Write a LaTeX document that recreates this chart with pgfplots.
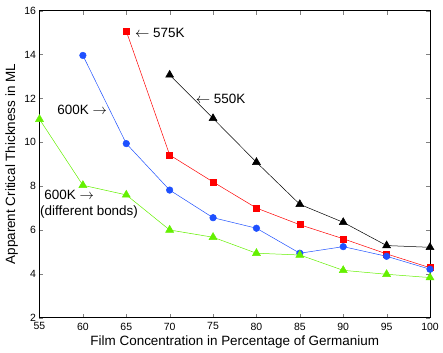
\documentclass[border=0pt]{standalone}
\usepackage{pgfplots}
\pgfplotsset{compat=1.18}
\usepackage{fontspec}
\setmainfont{Liberation Sans}
\definecolor{mblue}{RGB}{30,80,255}
\definecolor{mgreen}{RGB}{100,240,0}
\begin{document}
\begin{tikzpicture}
\path[use as bounding box] (-39.5bp,-35.3bp) rectangle (403.5bp,317.7bp);
\begin{axis}[
    at={(0,0)}, anchor=south west,
    scale only axis,
    width=390.5bp, height=307bp,
    xmin=55, xmax=100, ymin=2, ymax=16,
    xtick={55,60,...,100}, ytick={2,4,...,16},
    tick align=inside,
    major tick length=4bp,
    xtick pos=both, ytick pos=both,
    /pgf/number format/assume math mode=true,
    tick label style={font=\fontsize{10.5}{12}\selectfont},
    xticklabel style={yshift=-1.5bp},
    xlabel={Film Concentration in Percentage of Germanium},
    ylabel={Apparent Critical Thickness in ML},
    every axis x label/.style={at={(axis description cs:0.5,-0.0805)}, anchor=center, font=\fontsize{13.5}{15}\selectfont},
    every axis y label/.style={at={(axis description cs:-0.0712,0.5)}, anchor=center, rotate=90, font=\fontsize{13.5}{15}\selectfont},
    axis line style={line width=0.6pt},
    every axis plot/.append style={line width=0.5pt},
]
% 550K
\addplot[black, mark=triangle*, mark size=4.6bp] coordinates {
    (70,13.07) (75,11.09) (80,9.09) (85,7.17) (90,6.35) (95,5.29) (100,5.21)
};
% 575K
\addplot[red, mark=square*, mark size=3bp] coordinates {
    (65,15.07) (70,9.42) (75,8.19) (80,7.00) (85,6.24) (90,5.60) (95,4.91) (100,4.28)
};
% 600K
\addplot[mblue, mark=*, mark size=3.3bp] coordinates {
    (60,13.96) (65,9.94) (70,7.82) (75,6.56) (80,6.08) (85,4.94) (90,5.24) (95,4.80) (100,4.21)
};
% 600K (different bonds)
\addplot[mgreen, mark=triangle*, mark size=4.6bp] coordinates {
    (55,11.05) (60,8.04) (65,7.60) (70,6.00) (75,5.67) (80,4.94) (85,4.86) (90,4.16) (95,3.98) (100,3.83)
};
\node[anchor=west, inner sep=0pt, font=\fontsize{13.5}{15}\selectfont] at (axis cs:66.0,15.0) {$\leftarrow$ 575K};
\node[anchor=west, inner sep=0pt, font=\fontsize{13.5}{15}\selectfont] at (axis cs:73.0,12.0) {$\leftarrow$ 550K};
\node[anchor=west, inner sep=0pt, font=\fontsize{13.5}{15}\selectfont] at (axis cs:57.05,11.5) {600K $\rightarrow$};
\node[anchor=west, inner sep=0pt, font=\fontsize{13.5}{15}\selectfont] at (axis cs:55.55,7.6) {600K $\rightarrow$};
\node[anchor=west, inner sep=0pt, font=\fontsize{13.5}{15}\selectfont] at (axis cs:55.06,6.8) {(different bonds)};
\end{axis}
\end{tikzpicture}
\end{document}
